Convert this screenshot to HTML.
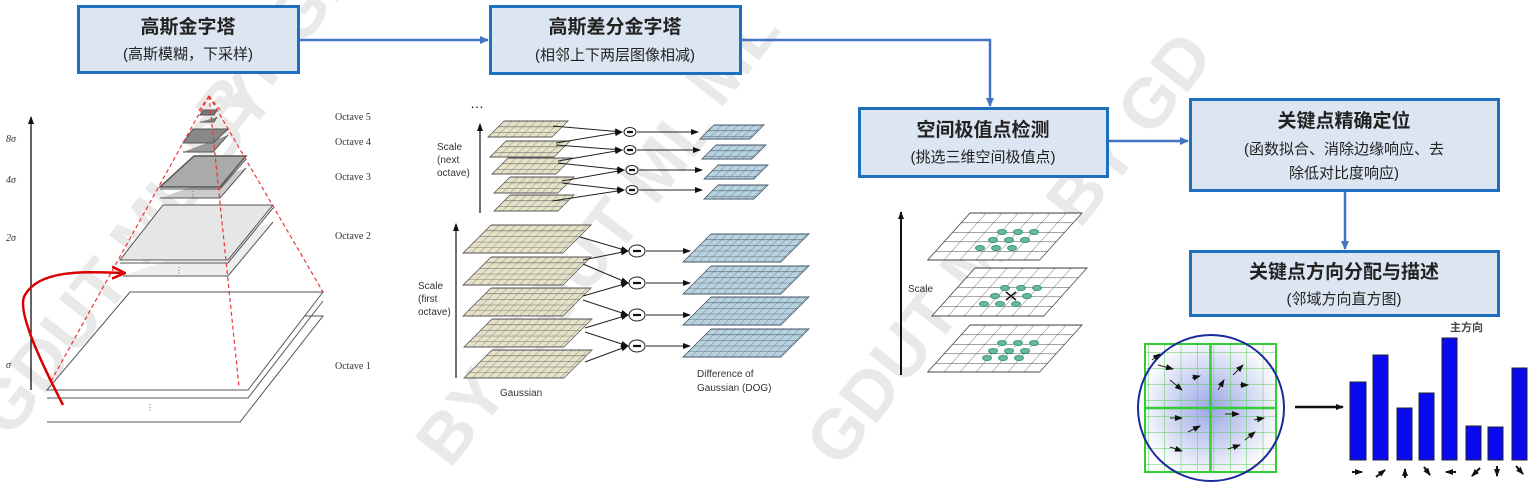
<!DOCTYPE html>
<html><head><meta charset="utf-8"><style>
html,body{margin:0;padding:0;background:#fff;width:1532px;height:483px;overflow:hidden}
svg{display:block}
.cn{font-family:"Liberation Sans","Noto Sans CJK SC",sans-serif}
.t{font-family:"Liberation Serif",serif;font-size:10px;fill:#333}
.s{font-family:"Liberation Sans",sans-serif;font-size:10px;fill:#333}
</style></head><body>
<svg width="1532" height="483" viewBox="0 0 1532 483" xmlns="http://www.w3.org/2000/svg">
<defs>
<pattern id="gg" width="8" height="5.6" patternUnits="userSpaceOnUse"><rect width="8" height="5.6" fill="#e6e2c8"/><path d="M0 0H8M0 0V5.6" stroke="#555" stroke-width="0.8"/></pattern>
<pattern id="gb" width="8" height="5.6" patternUnits="userSpaceOnUse"><rect width="8" height="5.6" fill="#b9d2e0"/><path d="M0 0H8M0 0V5.6" stroke="#456" stroke-width="0.8"/></pattern>
<pattern id="gw" width="16" height="9.5" patternUnits="userSpaceOnUse"><rect width="16" height="9.5" fill="#fff"/><path d="M0 0H16M0 0V9.5" stroke="#444" stroke-width="0.9"/></pattern>
<pattern id="gd" width="16.4" height="16" patternUnits="userSpaceOnUse"><path d="M0 0H16.4M0 0V16" stroke="#5c5" stroke-width="1"/></pattern>
<radialGradient id="rg"><stop offset="0" stop-color="#9aa6e6"/><stop offset="1" stop-color="#fff"/></radialGradient>
<marker id="ab" markerWidth="10" markerHeight="10" refX="8" refY="5" orient="auto" markerUnits="userSpaceOnUse"><path d="M0 1L9 5L0 9z" fill="#4472c4"/></marker>
<marker id="ak" markerWidth="8" markerHeight="8" refX="7" refY="4" orient="auto" markerUnits="userSpaceOnUse"><path d="M0 1L8 4L0 7z" fill="#111"/></marker>
<marker id="ar" markerWidth="14" markerHeight="14" refX="12" refY="7" orient="auto" markerUnits="userSpaceOnUse"><path d="M0 1L13 7L0 13" fill="none" stroke="#d00" stroke-width="2.5"/></marker>
</defs>

<!-- watermark -->
<g fill="#e4e4e4" font-family="Liberation Sans,sans-serif" font-weight="bold" font-size="70" opacity="0.8">
<text transform="translate(10,440) rotate(-52)">GDUT ML BY</text>
<text transform="translate(450,470) rotate(-52)">BY GDUT ML</text>
<text transform="translate(840,470) rotate(-52)">GDUT ML</text>
<text transform="translate(1080,230) rotate(-52)">BY GD</text>
<text transform="translate(230,140) rotate(-52)">BY GD</text>
<text transform="translate(720,110) rotate(-52)">ML</text>
</g>

<!-- boxes -->
<g class="cn" text-anchor="middle">
<rect x="78.5" y="6.5" width="220" height="66" fill="#dce6f2" stroke="#1f6fc0" stroke-width="3"/>
<text x="188" y="33" font-size="19" font-weight="bold" fill="#222">高斯金字塔</text>
<text x="188" y="59" font-size="15" fill="#222">(高斯模糊，下采样)</text>
<rect x="490.5" y="6.5" width="250" height="67" fill="#dce6f2" stroke="#1f6fc0" stroke-width="3"/>
<text x="615" y="33" font-size="19" font-weight="bold" fill="#222">高斯差分金字塔</text>
<text x="615" y="60" font-size="15" fill="#222">(相邻上下两层图像相减)</text>
<rect x="859.5" y="108.5" width="248" height="68" fill="#dce6f2" stroke="#1f6fc0" stroke-width="3"/>
<text x="983" y="136" font-size="19" font-weight="bold" fill="#222">空间极值点检测</text>
<text x="983" y="162" font-size="15" fill="#222">(挑选三维空间极值点)</text>
<rect x="1190.5" y="99.5" width="308" height="91" fill="#dce6f2" stroke="#1f6fc0" stroke-width="3"/>
<text x="1344" y="127" font-size="19" font-weight="bold" fill="#222">关键点精确定位</text>
<text x="1344" y="154" font-size="15" fill="#222">(函数拟合、消除边缘响应、去</text>
<text x="1344" y="178" font-size="15" fill="#222">除低对比度响应)</text>
<rect x="1190.5" y="251.5" width="308" height="64" fill="#dce6f2" stroke="#1f6fc0" stroke-width="3"/>
<text x="1344" y="278" font-size="19" font-weight="bold" fill="#222">关键点方向分配与描述</text>
<text x="1344" y="304" font-size="15" fill="#222">(邻域方向直方图)</text>
</g>
<g stroke="#4472c4" stroke-width="2.5" fill="none" marker-end="url(#ab)">
<path d="M299 40H488"/>
<path d="M741 40H990V106"/>
<path d="M1109 141H1188"/>
<path d="M1345 192V249"/>
</g>

<!-- pyramid -->
<g stroke="#555" stroke-width="1">
<path d="M47 422H240L323 316H302" fill="#fff"/>
<path d="M47 398H248L323 301" fill="none"/>
<path d="M47 390H248L323 292H130Z" fill="#fff"/>
<path d="M123 276H228L273 222" fill="#eee"/>
<path d="M120 263H228L273 208" fill="none"/>
<path d="M120 260H228L273 205H163Z" fill="#e6e6e6"/>
<path d="M160 198H220L246 168" fill="#ccc"/>
<path d="M160 189H220L246 159" fill="none"/>
<path d="M160 187H220L246 156H194Z" fill="#aaa" stroke-width="1.5"/>
<path d="M183 152H213L228 135" fill="#999"/>
<path d="M183 143H213L228 129H193Z" fill="#888"/>
<path d="M200 122H214L217 117" fill="#888"/>
<path d="M200 115H214L217 110H203Z" fill="#777"/>
</g>
<g fill="#555" font-size="8"><text x="146" y="410">⋮</text><text x="175" y="273">⋮</text><text x="189" y="197">⋮</text></g>
<g stroke="#e33" stroke-width="1.2" stroke-dasharray="4,3" fill="none">
<path d="M209 96L50 383"/><path d="M209 96L323 292"/><path d="M209 96L239 387"/><path d="M209 96L220 110"/><path d="M209 96L198 112"/>
</g>
<path d="M31 390V117" stroke="#111" stroke-width="1.3" marker-end="url(#ak)"/>
<g class="t" font-size="12" font-style="italic"><text x="6" y="142">8σ</text><text x="6" y="183">4σ</text><text x="6" y="241">2σ</text><text x="6" y="368">σ</text></g>
<g class="t"><text x="335" y="120">Octave 5</text><text x="335" y="145">Octave 4</text><text x="335" y="180">Octave 3</text><text x="335" y="239">Octave 2</text><text x="335" y="369">Octave 1</text></g>
<path d="M63 405C45 370 15 310 25 295C40 268 90 272 124 273" stroke="#d00" stroke-width="2.5" fill="none" marker-end="url(#ar)"/>

<!-- DoG -->
<text x="470" y="108" font-size="14" fill="#111" font-family="Liberation Sans">…</text>
<path d="M480 213V124" stroke="#111" stroke-width="1.2" marker-end="url(#ak)"/>
<path d="M456 378V224" stroke="#111" stroke-width="1.2" marker-end="url(#ak)"/>
<g class="s" font-size="9"><text x="437" y="150">Scale</text><text x="437" y="163">(next</text><text x="437" y="176">octave)</text>
<text x="418" y="289">Scale</text><text x="418" y="302">(first</text><text x="418" y="315">octave)</text>
<text x="500" y="396">Gaussian</text><text x="697" y="377">Difference of</text><text x="697" y="391">Gaussian (DOG)</text></g>
<g>
<rect x="0" y="0" width="64" height="16" fill="url(#gg)" stroke="#555" transform="translate(504,121) skewX(-45)"/>
<rect width="64" height="16" fill="url(#gg)" stroke="#555" transform="translate(506,141) skewX(-45)"/>
<rect width="64" height="16" fill="url(#gg)" stroke="#555" transform="translate(508,158) skewX(-45)"/>
<rect width="64" height="16" fill="url(#gg)" stroke="#555" transform="translate(510,177) skewX(-45)"/>
<rect width="64" height="16" fill="url(#gg)" stroke="#555" transform="translate(510,195) skewX(-45)"/>
<rect width="50" height="14" fill="url(#gb)" stroke="#456" transform="translate(714,125) skewX(-45)"/>
<rect width="50" height="14" fill="url(#gb)" stroke="#456" transform="translate(716,145) skewX(-45)"/>
<rect width="50" height="14" fill="url(#gb)" stroke="#456" transform="translate(718,165) skewX(-45)"/>
<rect width="50" height="14" fill="url(#gb)" stroke="#456" transform="translate(718,185) skewX(-45)"/>
<rect width="100" height="28" fill="url(#gg)" stroke="#555" transform="translate(491,225) skewX(-45)"/>
<rect width="100" height="28" fill="url(#gg)" stroke="#555" transform="translate(491,257) skewX(-45)"/>
<rect width="100" height="28" fill="url(#gg)" stroke="#555" transform="translate(491,288) skewX(-45)"/>
<rect width="100" height="28" fill="url(#gg)" stroke="#555" transform="translate(492,319) skewX(-45)"/>
<rect width="100" height="28" fill="url(#gg)" stroke="#555" transform="translate(492,350) skewX(-45)"/>
<rect width="98" height="28" fill="url(#gb)" stroke="#456" transform="translate(711,234) skewX(-45)"/>
<rect width="98" height="28" fill="url(#gb)" stroke="#456" transform="translate(711,266) skewX(-45)"/>
<rect width="98" height="28" fill="url(#gb)" stroke="#456" transform="translate(711,297) skewX(-45)"/>
<rect width="98" height="28" fill="url(#gb)" stroke="#456" transform="translate(711,329) skewX(-45)"/>
</g>
<g stroke="#222" stroke-width="1" fill="none" marker-end="url(#ak)">
<path d="M553 126L622 132"/><path d="M556 143L622 132"/><path d="M556 145L622 150"/><path d="M558 161L622 150"/><path d="M558 163L624 170"/><path d="M562 181L624 170"/><path d="M562 183L624 190"/><path d="M552 201L624 190"/>
<path d="M637 132H698"/><path d="M637 150H700"/><path d="M639 170H702"/><path d="M639 190H702"/>
<path d="M580 237L628 251"/><path d="M583 260L628 251"/><path d="M583 264L628 283"/><path d="M583 296L628 283"/><path d="M583 300L628 315"/><path d="M585 328L628 315"/><path d="M585 332L628 346"/><path d="M585 362L628 346"/>
<path d="M646 251H690"/><path d="M646 283H690"/><path d="M646 315H690"/><path d="M646 346H690"/>
</g>
<g fill="#fff" stroke="#222">
<ellipse cx="630" cy="132" rx="6" ry="4.5"/><ellipse cx="630" cy="150" rx="6" ry="4.5"/><ellipse cx="632" cy="170" rx="6" ry="4.5"/><ellipse cx="632" cy="190" rx="6" ry="4.5"/>
<ellipse cx="637" cy="251" rx="8" ry="6"/><ellipse cx="637" cy="283" rx="8" ry="6"/><ellipse cx="637" cy="315" rx="8" ry="6"/><ellipse cx="637" cy="346" rx="8" ry="6"/>
</g>
<g stroke="#111" stroke-width="2.2"><path d="M627 132h6M627 150h6M629 170h6M629 190h6M633 251h8M633 283h8M633 315h8M633 346h8"/></g>

<!-- keypoint scale -->
<path d="M901 375V212" stroke="#111" stroke-width="2" marker-end="url(#ak)"/>
<text x="908" y="292" class="s" font-size="11">Scale</text>
<rect width="112" height="47" fill="url(#gw)" stroke="#444" transform="translate(970,213) skewX(-42)"/>
<rect width="112" height="48" fill="url(#gw)" stroke="#444" transform="translate(975,268) skewX(-42)"/>
<rect width="112" height="47" fill="url(#gw)" stroke="#444" transform="translate(970,325) skewX(-42)"/>
<g fill="#6cb89a" stroke="#397">
<ellipse cx="1002" cy="232" rx="4.5" ry="2.5"/><ellipse cx="1018" cy="232" rx="4.5" ry="2.5"/><ellipse cx="1034" cy="232" rx="4.5" ry="2.5"/>
<ellipse cx="993" cy="240" rx="4.5" ry="2.5"/><ellipse cx="1009" cy="240" rx="4.5" ry="2.5"/><ellipse cx="1025" cy="240" rx="4.5" ry="2.5"/>
<ellipse cx="980" cy="248" rx="4.5" ry="2.5"/><ellipse cx="996" cy="248" rx="4.5" ry="2.5"/><ellipse cx="1012" cy="248" rx="4.5" ry="2.5"/>
<ellipse cx="1005" cy="288" rx="4.5" ry="2.5"/><ellipse cx="1021" cy="288" rx="4.5" ry="2.5"/><ellipse cx="1037" cy="288" rx="4.5" ry="2.5"/>
<ellipse cx="995" cy="296" rx="4.5" ry="2.5"/><ellipse cx="1027" cy="296" rx="4.5" ry="2.5"/>
<ellipse cx="984" cy="304" rx="4.5" ry="2.5"/><ellipse cx="1000" cy="304" rx="4.5" ry="2.5"/><ellipse cx="1016" cy="304" rx="4.5" ry="2.5"/>
<ellipse cx="1002" cy="343" rx="4.5" ry="2.5"/><ellipse cx="1018" cy="343" rx="4.5" ry="2.5"/><ellipse cx="1034" cy="343" rx="4.5" ry="2.5"/>
<ellipse cx="993" cy="351" rx="4.5" ry="2.5"/><ellipse cx="1009" cy="351" rx="4.5" ry="2.5"/><ellipse cx="1025" cy="351" rx="4.5" ry="2.5"/>
<ellipse cx="987" cy="358" rx="4.5" ry="2.5"/><ellipse cx="1003" cy="358" rx="4.5" ry="2.5"/><ellipse cx="1019" cy="358" rx="4.5" ry="2.5"/>
</g>
<path d="M1006 292l10 8M1006 300l10-8" stroke="#111" stroke-width="1.5"/>

<!-- descriptor -->
<circle cx="1211" cy="408" r="73" fill="url(#rg)"/>
<rect x="1145" y="344" width="131" height="128" fill="url(#gd)" stroke="#3c3" stroke-width="2"/>
<path d="M1210.5 344V472M1145 408H1276" stroke="#3c3" stroke-width="2.5"/>
<circle cx="1211" cy="408" r="73" fill="none" stroke="#1a2a9c" stroke-width="2"/>
<g stroke="#222" stroke-width="1" marker-end="url(#ak)">
<path d="M1158 365l15 4"/><path d="M1170 380l12 10"/><path d="M1192 378l8-2"/><path d="M1233 375l10-10"/><path d="M1218 390l6-10"/><path d="M1240 385l8 0"/><path d="M1170 418l12 0"/><path d="M1188 432l12-6"/><path d="M1225 414l14 0"/><path d="M1170 447l12 4"/><path d="M1228 449l12-4"/><path d="M1152 360l8-6"/><path d="M1254 420l10-2"/><path d="M1245 440l10-8"/>
</g>
<path d="M1295 407H1343" stroke="#111" stroke-width="2.5" marker-end="url(#ak)"/>
<g fill="#0a0af0" stroke="#223">
<rect x="1350" y="382" width="16" height="78"/><rect x="1373" y="355" width="15" height="105"/><rect x="1397" y="408" width="15" height="52"/><rect x="1419" y="393" width="15" height="67"/>
<rect x="1442" y="338" width="15" height="122"/><rect x="1466" y="426" width="15" height="34"/><rect x="1488" y="427" width="15" height="33"/><rect x="1512" y="368" width="15" height="92"/>
</g>
<text x="1450" y="331" class="cn" font-size="11" font-weight="bold" fill="#444">主方向</text>
<g stroke="#111" stroke-width="2" marker-end="url(#ak)">
<path d="M1352 472h10"/><path d="M1376 477l9-7"/><path d="M1405 478v-9"/><path d="M1424 467l6 8"/><path d="M1456 472h-10"/><path d="M1480 468l-8 8"/><path d="M1497 466v10"/><path d="M1516 466l7 8"/>
</g>
</svg>
</body></html>
